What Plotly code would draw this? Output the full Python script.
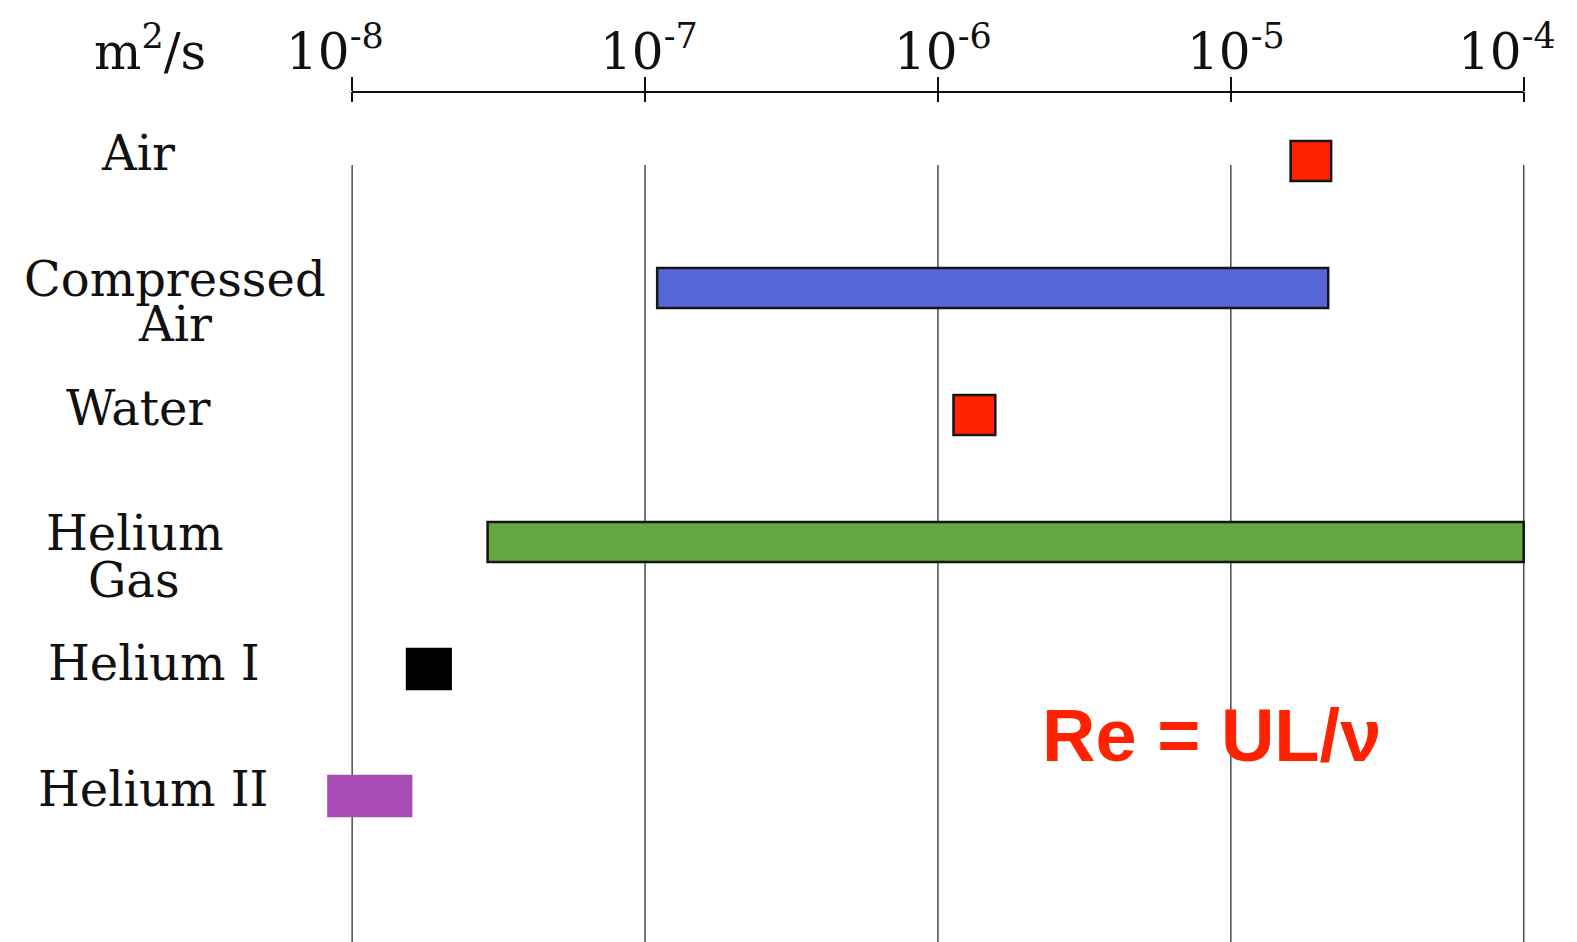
import math
import plotly.graph_objects as go

# Kinematic viscosity ranges of test fluids (m^2/s)
fluids = ["Air", "Compressed Air", "Water", "Helium Gas", "Helium I", "Helium II"]
nu_low = [1.6e-5, 1.1e-7, 1.13e-6, 2.9e-8, 1.54e-8, 8.3e-9]
nu_high = [2.2e-5, 2.15e-5, 1.57e-6, 1.0e-4, 2.17e-8, 1.59e-8]

decade_ticks = [1e-8, 1e-7, 1e-6, 1e-5, 1e-4]
tick_labels = ["10<sup>-8</sup>", "10<sup>-7</sup>", "10<sup>-6</sup>",
               "10<sup>-5</sup>", "10<sup>-4</sup>"]

# Styling
fill_colors = ["#FF2200", "#5567D8", "#FF2200", "#63A843", "#000000", "#AA4CB5"]
edge_colors = ["#151515", "#151515", "#151515", "#151515", "#000000", "#AA4CB5"]
SERIF = "DejaVu Serif, Liberation Serif, serif"

W, H = 1577, 942
ML, MR, MT, MB = 317, 24, 92, 0

# label text lines, horizontal centre (px) and vertical shift per line
row_labels = {
    "Air": (138, [("Air", 8)]),
    "Compressed Air": (175, [("Compressed", 9), ("Air", -36)]),
    "Water": (138, [("Water", 7)]),
    "Helium Gas": (134, [("Helium", 9), ("Gas", -38)]),
    "Helium I": (154, [("Helium I", 6)]),
    "Helium II": (153, [("Helium II", 7)]),
}
tick_label_shift = [-17, 4, 5, 5, -17]

fig = go.Figure()
fig.add_trace(go.Bar(
    y=fluids,
    x=[hi - lo for lo, hi in zip(nu_low, nu_high)],
    base=nu_low,
    orientation="h",
    width=0.315,
    marker=dict(color=fill_colors, line=dict(color=edge_colors, width=2.5)),
    showlegend=False,
    hoverinfo="skip",
))
# second top axis carries the inward half of the cross ticks
fig.add_trace(go.Scatter(x=[1e-6], y=[fluids[0]], xaxis="x2", mode="markers",
                         marker=dict(opacity=0), showlegend=False, hoverinfo="skip"))

x_range = [-8.12, -3.9]
fig.update_layout(
    width=W, height=H,
    margin=dict(l=ML, r=MR, t=MT, b=MB),
    paper_bgcolor="white", plot_bgcolor="white",
    xaxis=dict(type="log", range=x_range, side="top", tickvals=decade_ticks,
               showticklabels=False, ticks="outside", ticklen=14, tickwidth=2,
               tickcolor="#111", showgrid=False, zeroline=False, showline=False),
    xaxis2=dict(type="log", range=x_range, side="top", overlaying="x", anchor="y",
                tickvals=decade_ticks, showticklabels=False, ticks="inside",
                ticklen=10, tickwidth=2, tickcolor="#111", showgrid=False,
                zeroline=False, showline=False),
    yaxis=dict(type="category", categoryarray=fluids, range=[6.15, -0.543],
               showticklabels=False, showgrid=False, zeroline=False,
               showline=False, ticks=""),
    font=dict(family=SERIF, color="#111"),
)

grid_top = (H - MT - 165 + MT - MT) / (H - MT - MB)  # gridlines start below the axis
grid_top = (H - 165) / (H - MT - MB)
for v in decade_ticks:
    fig.add_shape(type="line", xref="x", yref="paper", x0=v, x1=v, y0=0, y1=grid_top,
                  line=dict(color="#4a4a55", width=1.5), layer="below")
fig.add_shape(type="line", xref="x", yref="paper", x0=decade_ticks[0], x1=decade_ticks[-1],
              y0=1, y1=1, line=dict(color="#111", width=2))

for v, txt, dx in zip(decade_ticks, tick_labels, tick_label_shift):
    fig.add_annotation(x=math.log10(v), xref="x", y=1, yref="paper", yshift=44,
                       text=txt, showarrow=False, xanchor="center", yanchor="middle",
                       xshift=dx, font=dict(family=SERIF, size=50, color="#111"))
fig.add_annotation(x=0, xref="paper", xshift=150 - ML, y=1, yref="paper", yshift=44,
                   text="m<sup>2</sup>/s", showarrow=False, xanchor="center",
                   yanchor="middle", font=dict(family=SERIF, size=50, color="#111"))

for name in fluids:
    cx, lines = row_labels[name]
    for txt, dy in lines:
        fig.add_annotation(x=0, xref="paper", xshift=cx - ML, y=name, yref="y",
                           yshift=dy, text=txt, showarrow=False, xanchor="center",
                           yanchor="middle", font=dict(family=SERIF, size=48, color="#111"))

fig.add_annotation(x=(1211 - ML) / (W - ML - MR), xref="paper",
                   y=1 - (735 - MT) / (H - MT - MB), yref="paper",
                   text="<b>Re = UL/\u03bd</b>", showarrow=False,
                   xanchor="center", yanchor="middle",
                   font=dict(family="Liberation Sans, Arial, sans-serif", size=74,
                             color="#FF2200"))

fig.write_html("out.html")
